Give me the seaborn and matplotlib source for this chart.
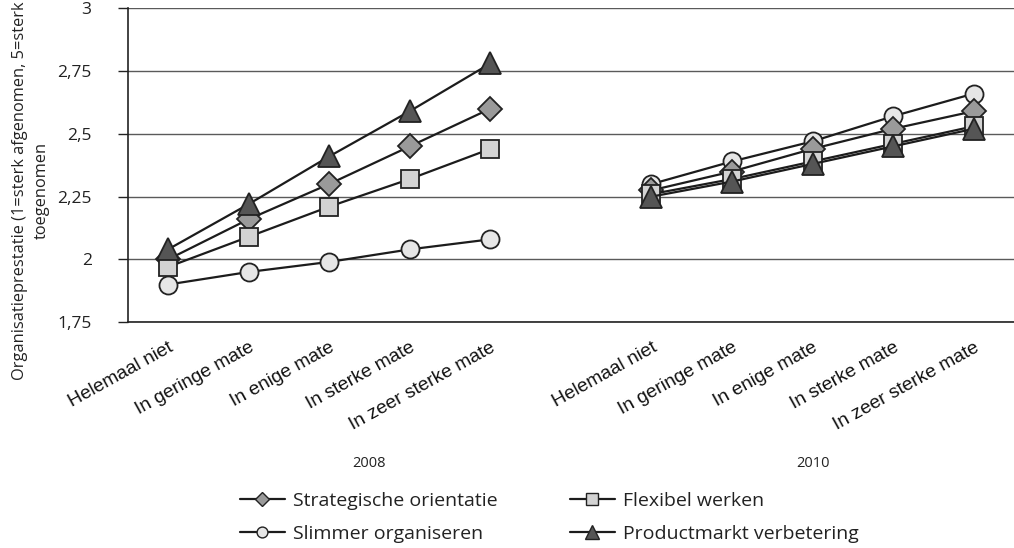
import matplotlib
matplotlib.use("Agg")
import matplotlib.pyplot as plt
import seaborn as sns
import pandas as pd

# Answer categories (x axis) and survey years
categories = ["Helemaal niet", "In geringe mate", "In enige mate",
              "In sterke mate", "In zeer sterke mate"]
years = ["2008", "2010"]

# Mean organisational performance per category, 2008 followed by 2010
strategisch = [2.00, 2.16, 2.30, 2.45, 2.60,   2.275, 2.35, 2.44, 2.52, 2.59]
slimmer = [1.90, 1.95, 1.99, 2.04, 2.08,       2.30, 2.39, 2.47, 2.57, 2.66]
flexibel = [1.97, 2.09, 2.21, 2.32, 2.44,      2.26, 2.32, 2.39, 2.46, 2.53]
productmarkt = [2.04, 2.22, 2.41, 2.59, 2.78,  2.25, 2.31, 2.38, 2.45, 2.52]

series_names = ["Strategische orientatie", "Slimmer organiseren",
                "Flexibel werken", "Productmarkt verbetering"]
series_values = [strategisch, slimmer, flexibel, productmarkt]

y_ticks = [1.75, 2.0, 2.25, 2.5, 2.75, 3.0]
y_tick_labels = ["1,75", "2", "2,25", "2,5", "2,75", "3"]
y_label = "Organisatieprestatie (1=sterk afgenomen, 5=sterk\ntoegenomen"

# Long-format table; each year gets its own block of category slots,
# the 2008 block followed by one empty slot
block = len(categories) + 1
rows = []
for name, vals in zip(series_names, series_values):
    for yi, year in enumerate(years):
        for ci, cat in enumerate(categories):
            rows.append({"serie": name, "jaar": year, "categorie": cat,
                         "pos": ci + yi * block,
                         "waarde": vals[yi * len(categories) + ci]})
df = pd.DataFrame(rows)

styles = {
    "Strategische orientatie": dict(marker="D", ms=12.5, mfc="#9a9a9a", z=3),
    "Slimmer organiseren": dict(marker="o", ms=13, mfc="#e6e6e6", z=2),
    "Flexibel werken": dict(marker="s", ms=13.5, mfc="#d3d3d3", z=4),
    "Productmarkt verbetering": dict(marker="^", ms=16, mfc="#555555", z=5),
}

sns.set_theme(style="white")
plt.rcParams["font.family"] = ["Open Sans", "DejaVu Sans"]

fig = plt.figure(figsize=(10.14, 5.48), dpi=100)
ax = fig.add_axes([0.126, 0.412, 0.874, 0.573])

line_color = "#1c1c1c"
for name in series_names:
    st = styles[name]
    sns.lineplot(data=df[df["serie"] == name], x="pos", y="waarde",
                 units="jaar", estimator=None, sort=True, ax=ax,
                 color=line_color, linewidth=1.6, marker=st["marker"],
                 markersize=st["ms"], markerfacecolor=st["mfc"],
                 markeredgecolor="#222222", markeredgewidth=1.3,
                 zorder=st["z"], legend=False)

# Axes, grid and ticks
n_slots = len(years) * block - 1
ax.set_xlim(-0.5, n_slots - 0.5)
ax.set_ylim(y_ticks[0], y_ticks[-1])
ax.set_yticks(y_ticks)
ax.set_yticklabels(y_tick_labels, fontsize=12.5, color="#222222")
ax.yaxis.grid(True, color="#5a5a5a", linewidth=1.0)
ax.set_axisbelow(True)
ax.tick_params(axis="y", which="major", direction="out", length=7,
               width=1.0, color="#222222", left=True, pad=19)

positions = sorted(df["pos"].unique())
tick_labels = [df.loc[df["pos"] == p, "categorie"].iloc[0] for p in positions]
ax.set_xticks(positions)
ax.set_xticklabels(tick_labels, rotation=29, ha="right", va="top",
                   rotation_mode="anchor", fontsize=13.8,
                   family="Liberation Sans", color="#111111")
ax.tick_params(axis="x", length=0, pad=12)

for side in ["top", "right"]:
    ax.spines[side].set_visible(False)
for side in ["left", "bottom"]:
    ax.spines[side].set_color("#222222")
    ax.spines[side].set_linewidth(1.2)

ax.set_xlabel("")
ax.set_ylabel(y_label, fontsize=11.8, color="#222222", linespacing=1.5)
ax.yaxis.set_label_coords(-0.088, 0.42)

# Year labels centred under each block of slots
for yi, year in enumerate(years):
    start = yi * block
    end = min(start + block - 1, n_slots - 1)
    ax.text((start + end) / 2, -0.45, year, transform=ax.get_xaxis_transform(),
            ha="center", va="center", fontsize=10.5, color="#222222")

# Legend below the chart, two columns
handles = []
for name in series_names:
    st = styles[name]
    h, = ax.plot([], [], color=line_color, linewidth=1.6, marker=st["marker"],
                 markersize=st["ms"] * 0.6, markerfacecolor=st["mfc"],
                 markeredgecolor="#222222", markeredgewidth=1.0, label=name)
    handles.append(h)
fig.legend(handles=handles, labels=series_names, ncol=2, loc="center",
           bbox_to_anchor=(0.542, 0.056), frameon=False, fontsize=14,
           handlelength=2.3, handletextpad=0.45, columnspacing=3.7,
           labelspacing=0.75, labelcolor="#222222")

fig.savefig("out.png", dpi=100)
